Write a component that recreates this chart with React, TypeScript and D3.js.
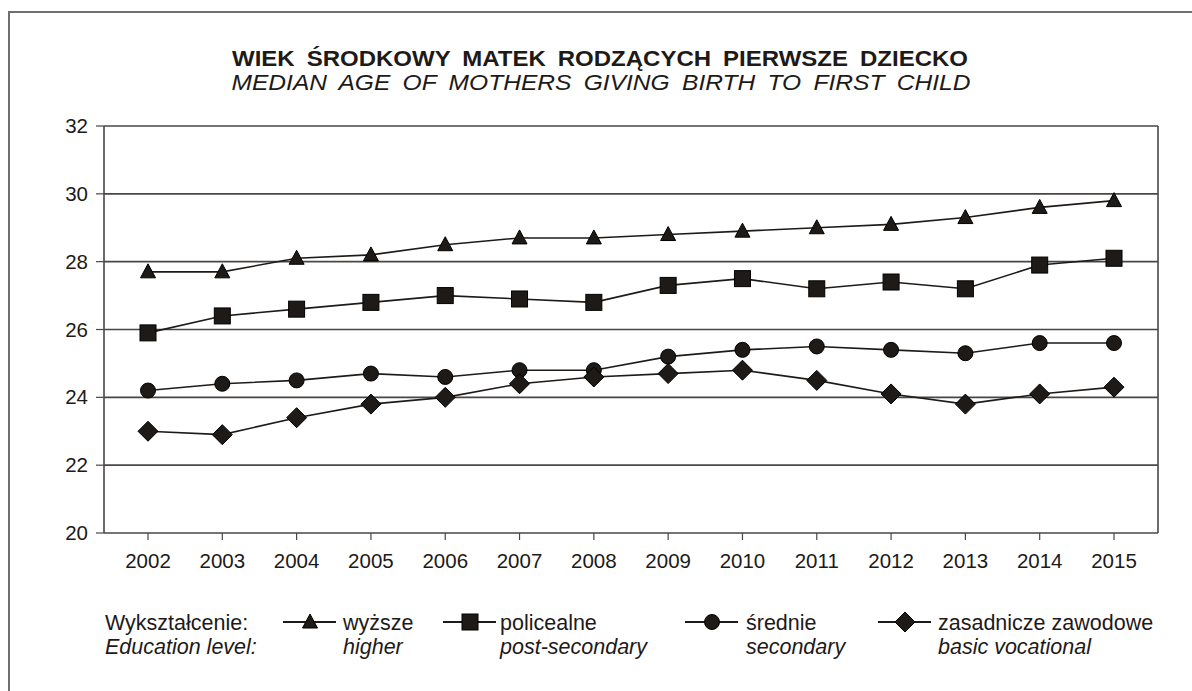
import React from "react";
import * as d3 from "d3";

const years = [2002, 2003, 2004, 2005, 2006, 2007, 2008, 2009, 2010, 2011, 2012, 2013, 2014, 2015];
const higher = [27.7, 27.7, 28.1, 28.2, 28.5, 28.7, 28.7, 28.8, 28.9, 29.0, 29.1, 29.3, 29.6, 29.8];
const postSecondary = [25.9, 26.4, 26.6, 26.8, 27.0, 26.9, 26.8, 27.3, 27.5, 27.2, 27.4, 27.2, 27.9, 28.1];
const secondary = [24.2, 24.4, 24.5, 24.7, 24.6, 24.8, 24.8, 25.2, 25.4, 25.5, 25.4, 25.3, 25.6, 25.6];
const vocational = [23.0, 22.9, 23.4, 23.8, 24.0, 24.4, 24.6, 24.7, 24.8, 24.5, 24.1, 23.8, 24.1, 24.3];
const yTicks = [20, 22, 24, 26, 28, 30, 32];

const seriesList = [
  { pl: "wyższe", en: "higher", values: higher, shape: "triangle" },
  { pl: "policealne", en: "post-secondary", values: postSecondary, shape: "square" },
  { pl: "średnie", en: "secondary", values: secondary, shape: "circle" },
  { pl: "zasadnicze zawodowe", en: "basic vocational", values: vocational, shape: "diamond" },
];

const FONT = "'Liberation Sans', Arial, sans-serif";
const INK = "#1e1a17";

function Marker({ shape, x, y }: { shape: string; x: number; y: number }) {
  const common = { fill: INK, stroke: "#000", strokeWidth: 1 };
  if (shape === "triangle") {
    return <path d={`M${x},${y - 8} L${x + 7.5},${y + 6} L${x - 7.5},${y + 6} Z`} {...common} />;
  }
  if (shape === "square") {
    return <rect x={x - 8} y={y - 8} width={16} height={16} {...common} />;
  }
  if (shape === "circle") {
    return <circle cx={x} cy={y} r={7.5} {...common} />;
  }
  return <path d={`M${x},${y - 10} L${x + 10},${y} L${x},${y + 10} L${x - 10},${y} Z`} {...common} />;
}

export default function App() {
  const W = 1192, H = 691;
  const left = 104, right = 1158, top = 126, bottom = 533;
  const x = d3.scalePoint<number>().domain(years).range([148, 1114]);
  const y = d3.scaleLinear().domain([20, 32]).range([bottom, top]);
  const line = d3.line<number>().x((_, i) => x(years[i])!).y((v) => y(v));

  const legendY = 622;
  const legendItems = [
    { lx: 310, tx: 343 },
    { lx: 470, tx: 500 },
    { lx: 712, tx: 746 },
    { lx: 905, tx: 938 },
  ];

  return (
    <svg width={W} height={H} style={{ position: "absolute", left: 0, top: 0, background: "#fff" }} fontFamily={FONT}>
      <rect x={0} y={0} width={W} height={H} fill="#fff" />
      <path d={`M9,${H + 5} L9,12 L${W + 5},12`} fill="none" stroke="#6f6f6f" strokeWidth={2} />
      <text x={600} y={66} textAnchor="middle" fontWeight="bold" fontSize={22.5} wordSpacing={5}
        textLength={736} lengthAdjust="spacingAndGlyphs" fill={INK}>
        WIEK ŚRODKOWY MATEK RODZĄCYCH PIERWSZE DZIECKO
      </text>
      <text x={601} y={90} textAnchor="middle" fontStyle="italic" fontSize={22.5} wordSpacing={5}
        textLength={739} lengthAdjust="spacingAndGlyphs" fill={INK}>
        MEDIAN AGE OF MOTHERS GIVING BIRTH TO FIRST CHILD
      </text>

      {yTicks.map((t) => (
        <g key={t}>
          <line x1={left} x2={right} y1={y(t)} y2={y(t)} stroke="#4a4644" strokeWidth={1.6} />
          <line x1={left - 8} x2={left} y1={y(t)} y2={y(t)} stroke="#4a4644" strokeWidth={1.2} />
          <text x={88} y={y(t) + 7} textAnchor="end" fontSize={20.5} fill={INK}>{t}</text>
        </g>
      ))}
      <line x1={left} x2={left} y1={top} y2={bottom} stroke="#4a4644" strokeWidth={1.6} />
      <line x1={right} x2={right} y1={top} y2={bottom} stroke="#4a4644" strokeWidth={1.6} />
      {years.map((yr) => (
        <g key={yr}>
          <line x1={x(yr)} x2={x(yr)} y1={bottom} y2={bottom + 7} stroke="#4a4644" strokeWidth={1.2} />
          <text x={x(yr)} y={568} textAnchor="middle" fontSize={20.5} fill={INK}>{yr}</text>
        </g>
      ))}

      {seriesList.map((s) => (
        <g key={s.en}>
          <path d={line(s.values) || ""} fill="none" stroke={INK} strokeWidth={1.6} />
          {s.values.map((v, i) => (
            <Marker key={i} shape={s.shape} x={x(years[i])!} y={y(v)} />
          ))}
        </g>
      ))}

      <text x={105} y={legendY + 8} fontSize={21.5} fill={INK}>Wykształcenie:</text>
      <text x={105} y={legendY + 32} fontSize={21.5} fontStyle="italic" fill={INK}>Education level:</text>
      {seriesList.map((s, i) => {
        const it = legendItems[i];
        return (
          <g key={s.en}>
            <line x1={it.lx - 27} x2={it.lx + 26} y1={legendY} y2={legendY} stroke={INK} strokeWidth={1.8} />
            <Marker shape={s.shape} x={it.lx} y={legendY} />
            <text x={it.tx} y={legendY + 8} fontSize={21.5} fill={INK}>{s.pl}</text>
            <text x={it.tx} y={legendY + 32} fontSize={21.5} fontStyle="italic" fill={INK}>{s.en}</text>
          </g>
        );
      })}
    </svg>
  );
}
